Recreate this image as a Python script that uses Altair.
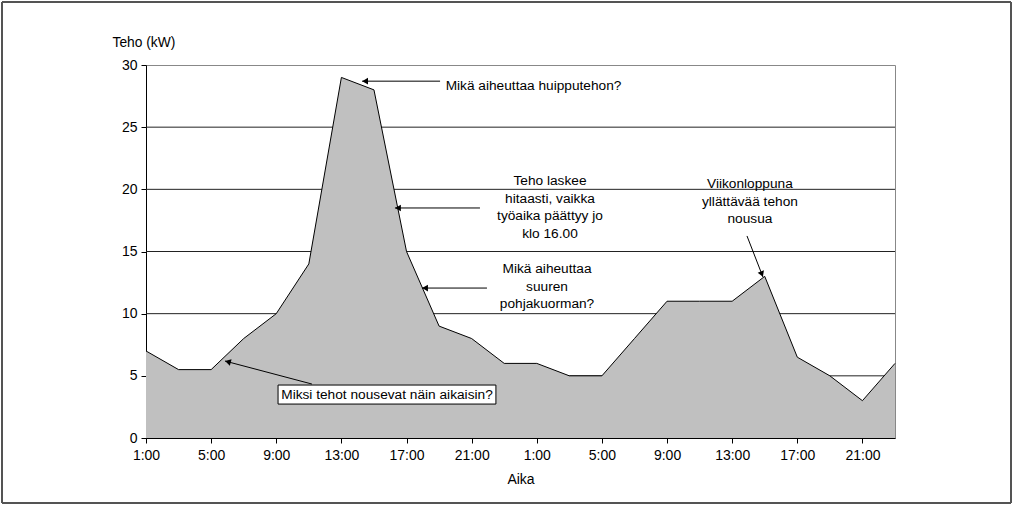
import math
import altair as alt
import pandas as pd

# ---- data ----
hours = list(range(0, 47, 2))          # hours since 1:00 on the first day
power = [7, 5.5, 5.5, 8, 10, 14, 29, 28, 15, 9, 8, 6,
         6, 5, 5, 8, 11, 11, 11, 13, 6.5, 5, 3, 6]
grid_levels = [5, 10, 15, 20, 25]

note_text = [
    "Mikä aiheuttaa huipputehon?",
    "Teho laskee\nhitaasti, vaikka\ntyöaika päättyy jo\nklo 16.00",
    "Mikä aiheuttaa\nsuuren\npohjakuorman?",
    "Viikonloppuna\nyllättävää tehon\nnousua",
    "Miksi tehot nousevat näin aikaisin?",
]
note_x = [23.80, 24.81, 24.63, 37.09, 14.80]
note_y = [28.31, 20.67, 13.59, 20.43, 3.46]     # first line of each note
arrow_x = [18.06, 20.51, 20.94, 36.91, 10.19]   # tail
arrow_y = [28.70, 18.50, 12.06, 16.25, 4.34]
arrow_x2 = [13.27, 15.29, 16.95, 37.89, 4.85]   # tip
arrow_y2 = [28.70, 18.50, 12.06, 12.95, 6.19]
box_x, box_x2 = [8.11], [21.49]
box_y, box_y2 = [2.73], [4.26]

W, H = 749, 373
XMAX, YMAX = 46, 30
PX_X, PX_Y = W / XMAX, H / YMAX
FONT = "Liberation Sans"

df = pd.DataFrame({"h": hours, "p": power})
grid_df = pd.DataFrame({"g": grid_levels})
notes = pd.DataFrame({"t": note_text, "x": note_x, "y": note_y})

heads = []
for x, y, x2, y2 in zip(arrow_x, arrow_y, arrow_x2, arrow_y2):
    dx = (x2 - x) * PX_X
    dy = -(y2 - y) * PX_Y
    L = math.hypot(dx, dy)
    ang = math.degrees(math.atan2(dx, -dy)) % 360
    hx = x2 - dx / L * 4 / PX_X
    hy = y2 + dy / L * 4 / PX_Y
    heads.append({"x": hx, "y": hy, "a": ang})
arrows = pd.DataFrame({"x": arrow_x, "y": arrow_y, "x2": arrow_x2, "y2": arrow_y2})
heads_df = pd.DataFrame(heads)
box_df = pd.DataFrame({"x": box_x, "x2": box_x2, "y": box_y, "y2": box_y2})

xs = alt.Scale(domain=[0, XMAX], nice=False, zero=False)
ys = alt.Scale(domain=[0, YMAX], nice=False)

x_axis = alt.Axis(
    values=hours, labelExpr="datum.value % 4 == 0 ? ((datum.value + 1) % 24) + ':00' : ''",
    grid=False, tickSize=5, tickColor="black", domainColor="black",
    labelFontSize=14, labelPadding=5, title="Aika", titleFontSize=14,
    titleFontWeight="normal", titlePadding=10, labelFont=FONT, titleFont=FONT,
    labelColor="black", titleColor="black", labelFlush=False,
)
y_axis = alt.Axis(
    values=[0, 5, 10, 15, 20, 25, 30], grid=False, tickSize=5, tickColor="black",
    domainColor="black", labelFontSize=14, labelPadding=4, title="Teho (kW)",
    titleFontSize=13.8, titleFontWeight="normal", titleAngle=0, titleAlign="left",
    titleBaseline="middle", titleX=-34, titleY=-23, labelFont=FONT, titleFont=FONT,
    labelColor="black", titleColor="black",
)

grid = alt.Chart(grid_df).mark_rule(color="#222", strokeWidth=1).encode(
    y=alt.Y("g:Q", scale=ys, axis=y_axis)
)
area = alt.Chart(df).mark_area(
    color="#c0c0c0", opacity=1, line={"color": "black", "strokeWidth": 1}
).encode(
    x=alt.X("h:Q", scale=xs, axis=x_axis),
    y=alt.Y("p:Q", scale=ys, axis=y_axis),
)
frame = alt.Chart(df).mark_rect(fill=None, stroke="#555", strokeWidth=1).encode(
    x=alt.value(-144), x2=alt.value(865), y=alt.value(-63), y2=alt.value(438)
)
box = alt.Chart(box_df).mark_rect(fill="white", stroke="black", strokeWidth=1).encode(
    x=alt.X("x:Q", scale=xs), x2="x2:Q", y=alt.Y("y:Q", scale=ys), y2="y2:Q"
)
lines = alt.Chart(arrows).mark_rule(color="black", strokeWidth=1).encode(
    x=alt.X("x:Q", scale=xs), x2="x2:Q", y=alt.Y("y:Q", scale=ys), y2="y2:Q"
)
head_marks = alt.Chart(heads_df).mark_point(
    shape="triangle", filled=True, color="black", size=45, opacity=1
).encode(
    x=alt.X("x:Q", scale=xs), y=alt.Y("y:Q", scale=ys), angle=alt.Angle("a:Q", scale=None)
)
texts = alt.Chart(notes).mark_text(
    font=FONT, fontSize=13.7, color="black", align="center", baseline="middle",
    lineBreak="\n", lineHeight=17.7
).encode(
    x=alt.X("x:Q", scale=xs), y=alt.Y("y:Q", scale=ys), text="t:N"
)

chart = alt.layer(grid, area, frame, box, lines, head_marks, texts).properties(
    width=W, height=H,
    padding={"left": 146, "top": 65, "right": 120, "bottom": 68},
    autosize=alt.AutoSizeParams(type="none"),
    background="white",
).configure_view(stroke="#888", strokeWidth=1)

chart.save("out.html", embed_options={"renderer": "svg", "actions": False})
